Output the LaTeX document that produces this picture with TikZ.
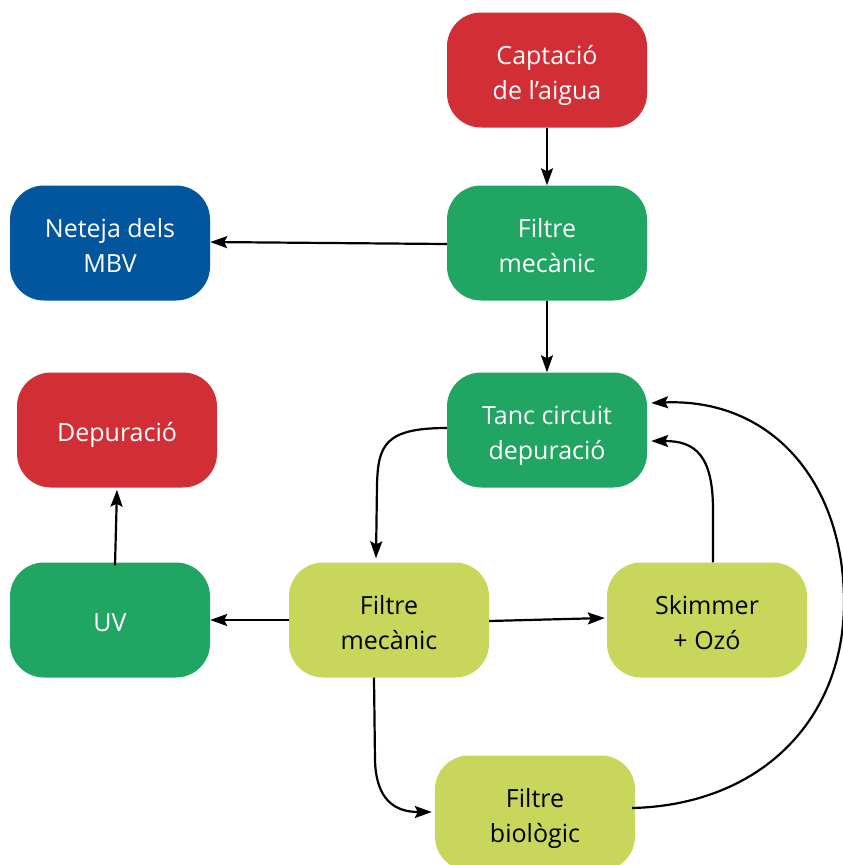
\documentclass[tikz,border=0pt]{standalone}
\usepackage{fontspec}
\setmainfont{Open Sans}
\usetikzlibrary{arrows.meta,calc}
\definecolor{cred}{HTML}{D12F35}
\definecolor{cgreen}{HTML}{21A562}
\definecolor{cblue}{HTML}{02569E}
\definecolor{clime}{HTML}{C8D65B}
\newcommand{\bxtxt}[1]{\raisebox{-11pt}[0pt][0pt]{\begin{tabular}{@{}c@{}}#1\end{tabular}}}
\tikzset{
  box/.style={rounded corners=34pt, minimum width=200pt, minimum height=115pt, inner sep=0pt, font=\fontsize{25}{35}\selectfont},
  redbox/.style={box, fill=cred, text=white},
  greenbox/.style={box, fill=cgreen, text=white},
  bluebox/.style={box, fill=cblue, text=white},
  limebox/.style={box, fill=clime, text=black},
  arr/.style={line width=2.2pt, -{Stealth[length=17pt,width=12pt,inset=3pt]}},
}
\begin{document}
\begin{tikzpicture}[x=1pt,y=-1pt]
\useasboundingbox (0,0) rectangle (843,865);
\begin{scope}
\clip (0,0) rectangle (843,865);
\node[redbox]   (capt) at (547,70)  {\bxtxt{Captació\\de l’aigua}};
\node[greenbox] (fm1)  at (547,243) {\bxtxt{Filtre\\mecànic}};
\node[bluebox]  (net)  at (110,243) {\bxtxt{Neteja dels\\MBV}};
\node[greenbox] (tanc) at (547,430) {\bxtxt{Tanc circuit\\depuració}};
\node[redbox]   (dep)  at (117,430) {\bxtxt{Depuració}};
\node[greenbox] (uv)   at (110,620) {\bxtxt{UV}};
\node[limebox]  (fm2)  at (389,620) {\bxtxt{Filtre\\mecànic}};
\node[limebox]  (skim) at (707,620) {\bxtxt{Skimmer\\+ Ozó}};
\node[limebox]  (bio)  at (535,813) {\bxtxt{Filtre\\biològic}};

\draw[arr] (capt.south) -- (fm1.north);
\draw[arr] ([yshift=-1pt]fm1.west) -- ([yshift=1pt]net.east);
\draw[arr] (fm1.south) -- (tanc.north);
\draw[arr] ([yshift=2pt]tanc.west) .. controls (385,428) and (378,445) .. (377,485) -- ([xshift=-13pt,yshift=4pt]fm2.north);
\draw[arr] (fm2.west) -- (uv.east);
\draw[arr] ([xshift=5pt,yshift=-3pt]uv.north) -- ([yshift=-2pt]dep.south);
\draw[arr] ([yshift=-1pt]fm2.east) -- ([xshift=-2pt,yshift=2pt]skim.west);
\draw[arr] ([xshift=6pt]skim.north) -- (713,510) .. controls (713,455) and (695,441) .. ([xshift=4pt,yshift=-11pt]tanc.east);
\draw[arr] ([xshift=-15pt]fm2.south) -- (375,760) .. controls (376,800) and (395,812) .. ([xshift=-3pt,yshift=1pt]bio.west);
\draw[arr] ([xshift=-3pt,yshift=5pt]bio.east) .. controls (760,805) and (845,720) .. (844,600) .. controls (843,480) and (770,398) .. ([xshift=4pt,yshift=27pt]tanc.east);
\end{scope}
\end{tikzpicture}
\end{document}
